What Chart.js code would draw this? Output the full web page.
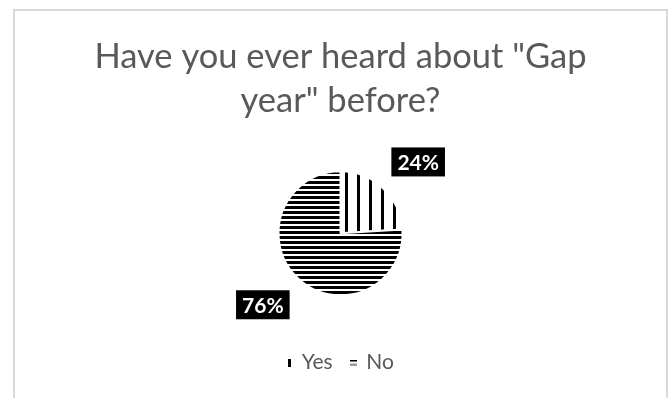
<!DOCTYPE html>
<html>
<head>
<meta charset="utf-8">
<script src="https://cdn.jsdelivr.net/npm/chart.js@4"></script>
<style>
    html, body { margin: 0; padding: 0; background: #fff; }
    #marco {
        position: absolute;
        left: 13px;
        top: 9px;
        width: 651px;
        height: 400px;
        border: 2px solid #d9d9d9;
    }
    canvas { display: block; }
</style>
</head>
<body>
<div id="marco">
    <canvas id="grafico" width="651" height="389"></canvas>
</div>
<script>
// Datos del gráfico
const categorias = ['Yes', 'No'];
const valores = [24, 76];
const etiquetas = ['24%', '76%'];
const tituloLineas = ['Have you ever heard about "Gap', 'year" before?'];

const GRIS_TEXTO = '#595959';
const FUENTE = 'Lato, "Open Sans", sans-serif';

/**
 * Trama de rayas (verticales u horizontales)
 */
function crearTrama(vertical) {
    const c = document.createElement('canvas');
    const ctx = c.getContext('2d');
    if (vertical) {
        c.width = 12; c.height = 4;
        ctx.fillStyle = '#fff';
        ctx.fillRect(0, 0, 12, 4);
        ctx.fillStyle = '#000';
        ctx.fillRect(0, 0, 3, 4);
    } else {
        c.width = 4; c.height = 5;
        ctx.fillStyle = '#fff';
        ctx.fillRect(0, 0, 4, 5);
        ctx.fillStyle = '#000';
        ctx.fillRect(0, 0, 4, 3);
    }
    const trama = ctx.createPattern(c, 'repeat');
    if (vertical) trama.setTransform(new DOMMatrix().translate(6, 0));
    return trama;
}

/**
 * Marcadores pequeños de la leyenda
 */
function crearMarcador(vertical) {
    const c = document.createElement('canvas');
    const ctx = c.getContext('2d');
    if (vertical) {
        c.width = 3; c.height = 8;
        ctx.fillStyle = '#000';
        ctx.fillRect(0, 0, 3, 8);
    } else {
        c.width = 7; c.height = 6;
        ctx.fillStyle = '#000';
        ctx.fillRect(0, 0, 7, 2);
        ctx.fillStyle = '#9a9a9a';
        ctx.fillRect(0, 4, 7, 2);
    }
    return c;
}

const tramas = [crearTrama(true), crearTrama(false)];
const marcadores = [crearMarcador(true), crearMarcador(false)];

// Etiquetas negras con porcentaje
const pluginEtiquetas = {
    id: 'etiquetasNegras',
    afterDatasetsDraw(chart) {
        const ctx = chart.ctx;
        const meta = chart.getDatasetMeta(0);
        ctx.save();
        ctx.font = 'bold 21px ' + FUENTE;
        ctx.textAlign = 'center';
        ctx.textBaseline = 'middle';
        meta.data.forEach(function(arco, i) {
            const p = arco.getProps(['x', 'y', 'startAngle', 'endAngle', 'outerRadius'], true);
            const ang = (p.startAngle + p.endAngle) / 2;
            const x = p.x + Math.cos(ang) * p.outerRadius * 1.83;
            const y = p.y + Math.sin(ang) * p.outerRadius * 1.58;
            const w = ctx.measureText(etiquetas[i]).width + 12;
            const h = 29;
            ctx.fillStyle = '#000';
            ctx.fillRect(x - w / 2, y - h / 2, w, h);
            ctx.fillStyle = '#fff';
            ctx.fillText(etiquetas[i], x, y + 1);
        });
        ctx.restore();
    }
};

new Chart(document.getElementById('grafico'), {
    type: 'pie',
    data: {
        labels: categorias,
        datasets: [{
            data: valores,
            backgroundColor: tramas,
            borderColor: '#fff',
            borderWidth: 2,
            radius: 62
        }]
    },
    options: {
        responsive: false,
        animation: false,
        layout: { padding: { top: 0, bottom: 17 } },
        plugins: {
            title: {
                display: true,
                text: tituloLineas,
                color: GRIS_TEXTO,
                font: { family: FUENTE, size: 34.5, weight: 'normal', lineHeight: 1.3 },
                padding: { top: 23, bottom: 10 }
            },
            legend: {
                position: 'bottom',
                labels: {
                    usePointStyle: true,
                    boxWidth: 4,
                    padding: 19,
                    color: GRIS_TEXTO,
                    font: { family: FUENTE, size: 21 },
                    generateLabels: function(chart) {
                        return categorias.map(function(nombre, i) {
                            return {
                                text: nombre,
                                pointStyle: marcadores[i],
                                fillStyle: '#000',
                                strokeStyle: '#000',
                                lineWidth: 0,
                                hidden: false,
                                index: i,
                                fontColor: GRIS_TEXTO
                            };
                        });
                    }
                }
            },
            tooltip: { enabled: false }
        }
    },
    plugins: [pluginEtiquetas]
});
</script>
</body>
</html>
